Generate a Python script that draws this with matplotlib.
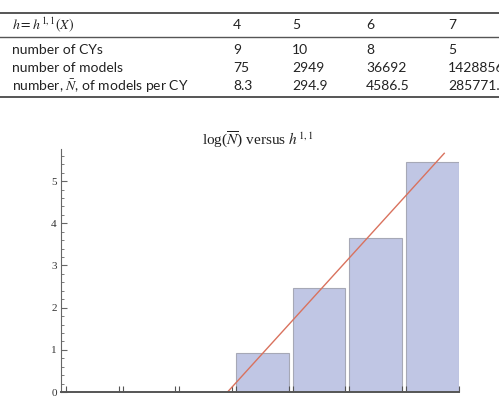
import numpy as np
import matplotlib
matplotlib.use("Agg")
import matplotlib.pyplot as plt
from matplotlib.ticker import MultipleLocator

# table data (h = h^{1,1}(X))
h_cols = ["4", "5", "6", "7"]
n_cys = ["9", "10", "8", "5"]
n_models = ["75", "2949", "36692", "1428856"]
n_per_cy = ["8.3", "294.9", "4586.5", "285771.2"]

# bar chart data
h_values = [1, 2, 3, 4, 5, 6, 7]
nbar = [1.0, 1.0, 1.0, 8.3, 294.9, 4586.5, 285771.2]

log_nbar = np.log10(nbar)
fit = np.polyfit(h_values[3:], log_nbar[3:], 1)

W, H = 499, 396
fig = plt.figure(figsize=(W / 100, H / 100), dpi=100)
plt.rcParams['mathtext.fontset'] = 'stix'

def px(x, y):
    return x / W, 1 - y / H

# --- table ---
tfont = dict(family="Lato", size=10, color="#222222")
fig.text(*px(12, -6), "for each $h$.", va="center", **tfont)
for y, lw in [(13, 1.4), (37, 1.0), (97, 1.4)]:
    fig.add_artist(plt.Line2D([0, 1], [1 - y / H] * 2, color="#555555", lw=lw))

col_x = [233, 292, 366, 448]
fig.text(*px(12, 25), "$h = h^{1,1}(X)$", va="center", **tfont)
for x, s in zip(col_x, h_cols):
    fig.text(*px(x, 25), s, va="center", **tfont)

rows = [("number of CYs", n_cys), ("number of models", n_models),
        ("number, $\\bar{N}$, of models per CY", n_per_cy)]
for y, (label, vals) in zip([50, 68, 86], rows):
    fig.text(*px(12, y), label, va="center", **tfont)
    for x, s in zip(col_x, vals):
        fig.text(*px(x, y), s, va="center", **tfont)

# --- chart ---
ax = fig.add_axes([61 / W, 4 / H, (459 - 61) / W, (392 - 149) / H])
width = 0.93
ax.bar(h_values, log_nbar, width=width, color="#c0c6e4", edgecolor="#a6a8b6", linewidth=0.8)

xs = np.array([3.0, 7.21])
ax.plot(xs, np.polyval(fit, xs), color="#d9725e", lw=1.0)

ax.set_xlim(0.45, 7.47)
ax.set_ylim(0, 5.76)
for s in ["top", "right"]:
    ax.spines[s].set_visible(False)
ax.spines["left"].set_color("#666666")
ax.spines["bottom"].set_color("#555555")
ax.spines["bottom"].set_linewidth(1.4)

edges = [h - width / 2 for h in h_values] + [h + width / 2 for h in h_values]
ax.set_xticks(edges)
ax.set_xticklabels([])
ax.tick_params(axis="x", direction="in", length=4, color="#555555")

ax.yaxis.set_major_locator(MultipleLocator(1))
ax.yaxis.set_minor_locator(MultipleLocator(0.2))
ax.tick_params(axis="y", which="major", direction="in", length=4, color="#666666",
               labelsize=8, labelcolor="#333333", pad=3)
ax.tick_params(axis="y", which="minor", direction="in", length=2.5, color="#666666")
for lab in ax.get_yticklabels():
    lab.set_family("Liberation Serif")

fig.text(*px(258, 140), "log($\\overline{N}$) versus $h^{1,1}$", ha="center", va="center",
         family="Liberation Serif", size=11, color="#222222")

fig.savefig("out.png", dpi=100)
